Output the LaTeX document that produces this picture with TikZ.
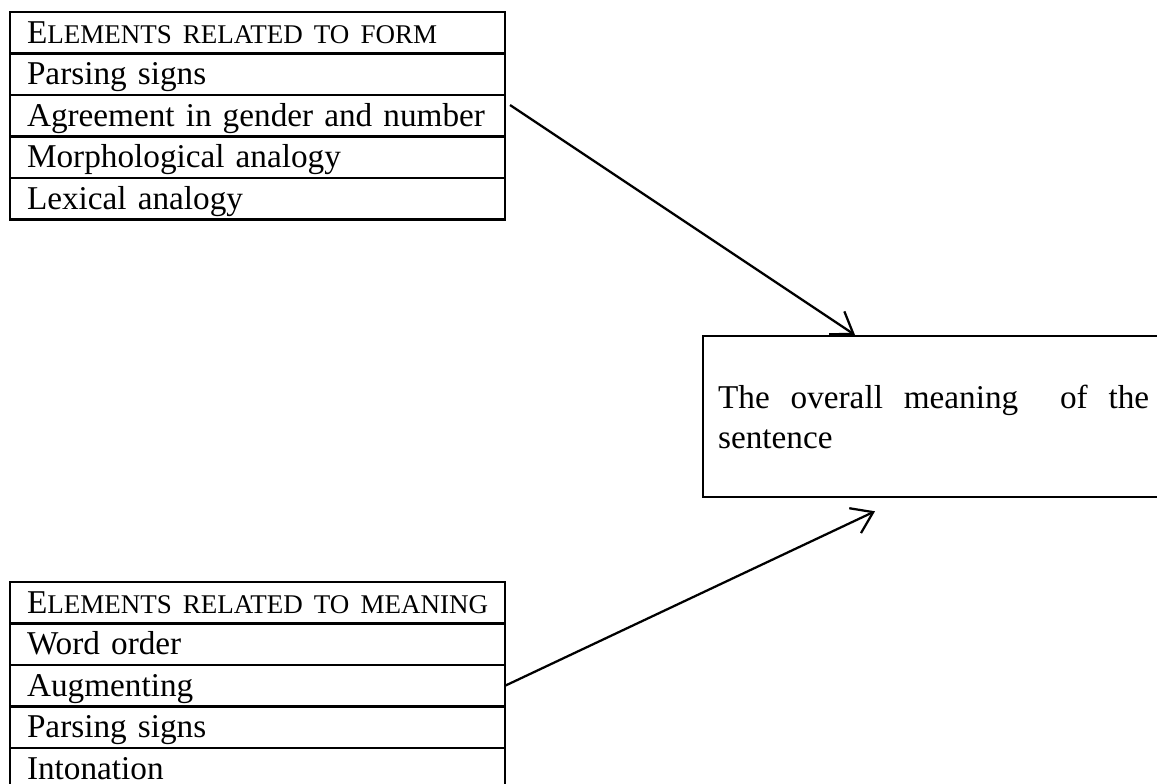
\documentclass[tikz,border=0pt]{standalone}
\usepackage{fontspec}
\setmainfont{Liberation Serif}
\usetikzlibrary{arrows.meta,positioning}
\newcommand{\scsmall}{\fontsize{10.8}{13}\selectfont}

\tikzset{
  cell/.style={draw, rectangle, line width=0.9pt, outer sep=0pt,
    inner xsep=6.8pt, inner ysep=0pt, minimum width=198pt, minimum height=16.6pt,
    text width=184.4pt, text height=12.4pt, text depth=4.2pt, align=left,
    font=\fontsize{13.3}{15}\selectfont},
  link/.style={line width=0.9pt, -{Straight Barb[length=8pt,width=11pt]}}
}

\begin{document}
\begin{tikzpicture}[x=0.4pt,y=-0.4pt,node distance=0pt]
  \useasboundingbox (0,0) rectangle (1157,783);

  % Top table: elements related to form
  \node[cell, anchor=north west] (formhead) at (10,12) {\mbox{E\scsmall LEMENTS RELATED TO FORM}};
  \node[cell, below=of formhead] (parsingA) {Parsing signs};
  \node[cell, below=of parsingA] (agree) {Agreement in gender and number};
  \node[cell, below=of agree] (morph) {Morphological analogy};
  \node[cell, below=of morph] (lexical) {Lexical analogy};

  % Bottom table: elements related to meaning (cut off at the bottom)
  \node[cell, anchor=north west] (meaninghead) at (10,582) {\mbox{E\scsmall LEMENTS RELATED TO MEANING}};
  \node[cell, below=of meaninghead] (order) {Word order};
  \node[cell, below=of order] (augment) {Augmenting};
  \node[cell, below=of augment] (parsingB) {Parsing signs};
  \node[cell, below=of parsingB] (intonation) {Intonation};

  % Result box, runs off the right edge
  \node[draw, line width=0.9pt, anchor=north west, inner xsep=6pt, minimum height=64.4pt,
    text width=177.2pt, align=left, font=\fontsize{13.3}{16}\selectfont] (result) at (702,335)
    {\makebox[172.4pt][l]{The\hfill overall\hfill meaning\hfill\hfill of\hfill the}\\sentence};

  \coordinate (formtip) at ([shift={(153,0)}]result.north west);
  \coordinate (meaningtip) at ([shift={(173,13)}]result.south west);

  % Arrows
  \draw[link] ([shift={(5,10)}]agree.north east) -- (formtip);
  \draw[link] (augment.east) -- (meaningtip);
\end{tikzpicture}
\end{document}
